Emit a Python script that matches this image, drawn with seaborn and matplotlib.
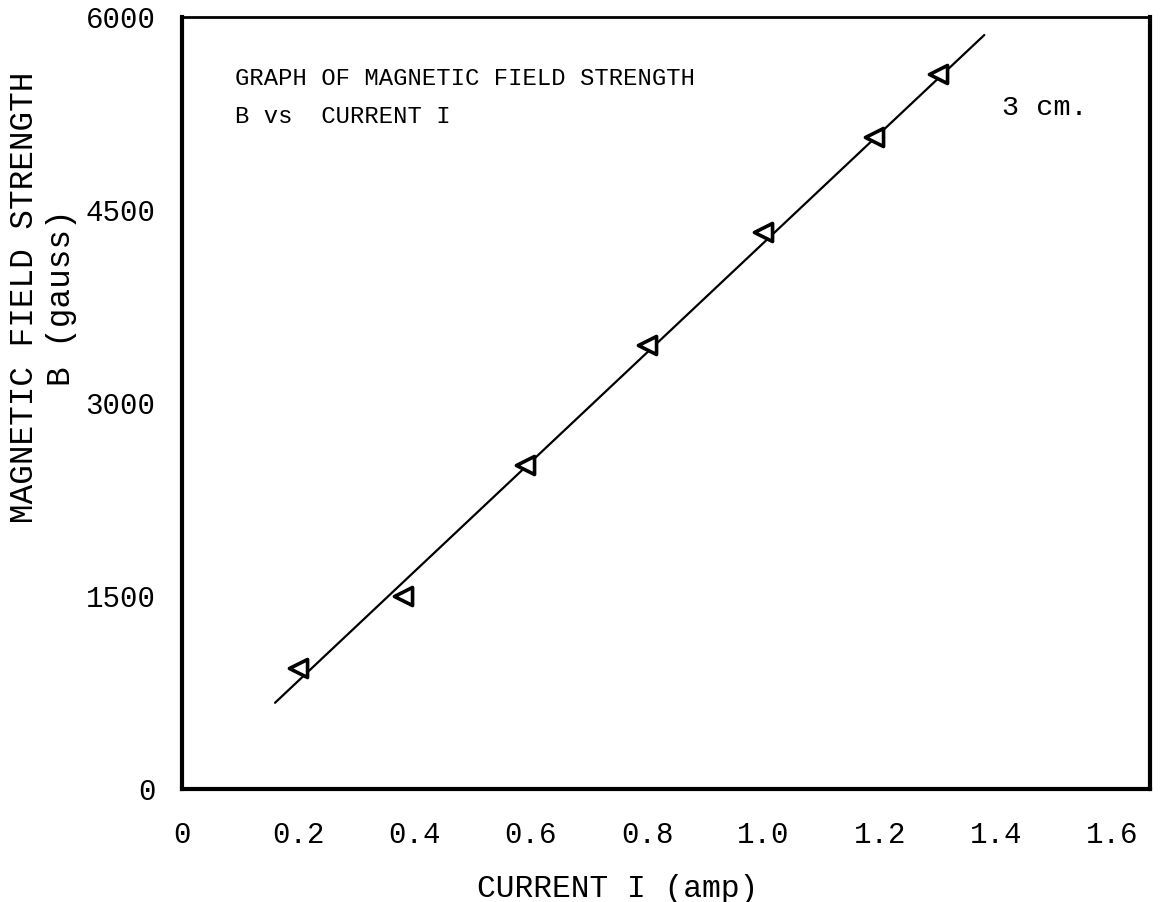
import matplotlib
matplotlib.use("Agg")
import matplotlib.pyplot as plt
import seaborn as sns
import pandas as pd

# Measured field strength against coil current
current_amp = [0.20, 0.38, 0.59, 0.80, 1.00, 1.19, 1.30]
field_gauss = [940, 1500, 2520, 3450, 4330, 5070, 5560]

# End points of the fitted straight line
fit_current = [0.16, 1.38]
fit_field = [670, 5860]

x_ticks = [0, 0.2, 0.4, 0.6, 0.8, 1.0, 1.2, 1.4, 1.6]
x_tick_labels = ["0", "0.2", "0.4", "0.6", "0.8", "1.0", "1.2", "1.4", "1.6"]
y_ticks = [0, 1500, 3000, 4500, 6000]
y_tick_labels = ["0", "1500", "3000", "4500", "6000"]

title_lines = ["GRAPH OF MAGNETIC FIELD STRENGTH", "B vs  CURRENT I"]
note_text = "3 cm."

sns.set_theme(style="white")
plt.rcParams["font.family"] = ["Liberation Mono", "DejaVu Sans Mono"]

points = pd.DataFrame({"I": current_amp, "B": field_gauss})
fit = pd.DataFrame({"I": fit_current, "B": fit_field})

fig = plt.figure(figsize=(11.63, 9.02), dpi=100)
W, H = 1163, 902
ax = fig.add_axes([182 / W, 1 - 789 / H, (1150 - 182) / W, (789 - 17) / H])

sns.lineplot(data=fit, x="I", y="B", ax=ax, color="black", linewidth=1.6)
sns.scatterplot(data=points, x="I", y="B", ax=ax, marker="<", s=170,
                facecolor="white", edgecolor="black", linewidth=2.6, zorder=3)

ax.set_xlim(0, 1.665)
ax.set_ylim(0, 6000)
ax.set_xticks(x_ticks)
ax.set_xticklabels(x_tick_labels)
ax.set_yticks(y_ticks)
ax.set_yticklabels(y_tick_labels)
ax.tick_params(axis="both", direction="in", length=14, width=2, color="black",
               labelsize=21, labelcolor="black")
ax.tick_params(axis="x", pad=23)
ax.tick_params(axis="y", pad=19)

for side, lw in [("left", 3), ("bottom", 3), ("top", 2), ("right", 3)]:
    ax.spines[side].set_visible(True)
    ax.spines[side].set_color("black")
    ax.spines[side].set_linewidth(lw)

ax.set_xlabel("CURRENT I (amp)", fontsize=22.5, color="black")
ax.xaxis.set_label_coords(0.450, -0.110)
ax.set_ylabel("MAGNETIC FIELD STRENGTH\nB (gauss)", fontsize=23.5,
              color="black", linespacing=1.25, multialignment="center")
ax.yaxis.set_label_coords(-0.108, 0.637)

ax.text(0.055, 0.92, title_lines[0], transform=ax.transAxes, fontsize=17.2,
        ha="left", va="center", color="black")
ax.text(0.055, 0.871, title_lines[1], transform=ax.transAxes, fontsize=17.2,
        ha="left", va="center", color="black")
ax.text(0.8915, 0.882, note_text, transform=ax.transAxes, fontsize=20.5,
        ha="center", va="center", color="black")

fig.savefig("out.png", dpi=100, facecolor="white")
